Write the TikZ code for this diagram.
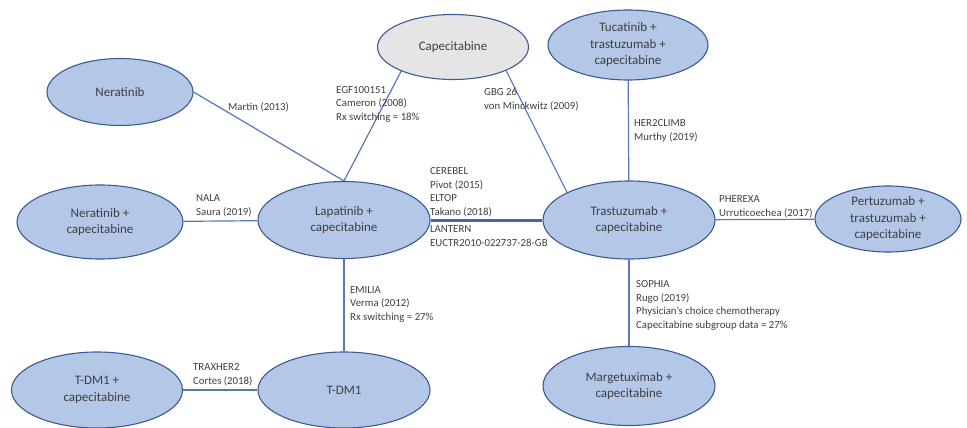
\documentclass[tikz,border=0pt]{standalone}
\usepackage{fontspec}
\setmainfont{Carlito}
\usetikzlibrary{shapes.geometric}
\definecolor{nodefill}{HTML}{B4C7E7}
\definecolor{greyfill}{HTML}{E5E5E5}
\definecolor{rim}{HTML}{3A5A96}
\definecolor{linkblue}{HTML}{5777BA}
\definecolor{txt}{HTML}{3F3F3F}
\pgfdeclarelayer{links}
\pgfsetlayers{links,main}
\begin{document}
\begin{tikzpicture}[x=1pt,y=-1pt,
  drug/.style={ellipse,draw=rim,line width=1.1pt,fill=nodefill,inner sep=0pt,
    align=center,text=txt,font=\fontsize{13}{16.5}\selectfont},
  % labels are placed by the baseline of their last line
  ref/.style={draw=none,fill=none,anchor=base west,align=left,inner sep=0pt,
    text=txt,font=\fontsize{10.8}{13.6}\selectfont},
  link/.style={draw=linkblue,line width=1.2pt},
  biglink/.style={draw=linkblue!85!black,line width=3pt}]
\useasboundingbox (0,0) rectangle (967,428);

% treatments
\node[drug,fill=greyfill,minimum width=151pt,minimum height=65pt] (cap) at (453,47) {Capecitabine};
\node[drug,minimum width=160pt,minimum height=70pt] (tuc) at (628,45) {Tucatinib +\\trastuzumab +\\capecitabine};
\node[drug,minimum width=146pt,minimum height=67pt] (ner) at (120,92) {Neratinib};
\node[drug,minimum width=166pt,minimum height=74pt] (nerc) at (100,222) {Neratinib +\\capecitabine};
\node[drug,minimum width=172pt,minimum height=77pt] (lap) at (344,220) {Lapatinib +\\capecitabine};
\node[drug,minimum width=172pt,minimum height=78pt] (tra) at (629,220) {Trastuzumab +\\capecitabine};
\node[drug,minimum width=146pt,minimum height=66pt] (per) at (888,219) {Pertuzumab +\\trastuzumab +\\capecitabine};
\node[drug,minimum width=171pt,minimum height=76pt] (tdmc) at (97,390) {T-DM1 +\\capecitabine};
\node[drug,minimum width=172pt,minimum height=76pt] (tdm) at (344,390) {T-DM1};
\node[drug,minimum width=172pt,minimum height=79pt] (mar) at (629,386) {Margetuximab +\\capecitabine};

% trials linking treatments, kept beneath the ellipses
\begin{pgfonlayer}{links}
\draw[link] (ner.east) -- (lap.north);
\draw[link] (cap.205) -- (lap.north);
\draw[link] (cap.336) -- (tra.156);
\draw[link] (tuc) -- (tra);
\draw[link] (nerc) -- (lap);
\draw[biglink] (lap) -- (tra);
\draw[link] (tra) -- (per);
\draw[link] (lap) -- (tdm);
\draw[link] (tdmc) -- (tdm);
\draw[link] (tra) -- (mar);
\end{pgfonlayer}

% trial labels
\node[ref] (lmartin) at (228,110.5) {Martin (2013)};
\node[ref] (legf) at (336,120.5) {EGF100151\\Cameron (2008)\\Rx switching = 18\%};
\node[ref] (lgbg) at (484,109.5) {GBG 26\\von Minckwitz (2009)};
\node[ref] (lher) at (634,140.5) {HER2CLIMB\\Murthy (2019)};
\node[ref] (lnala) at (196,215.5) {NALA\\Saura (2019)};
\node[ref] (lcer) at (430,215.5) {CEREBEL\\Pivot (2015)\\ELTOP\\Takano (2018)};
\node[ref] (llan) at (430,246.5) {LANTERN\\EUCTR2010-022737-28-GB};
\node[ref] (lphe) at (719,216.5) {PHEREXA\\Urruticoechea (2017)};
\node[ref] (lemi) at (350,320.5) {EMILIA\\Verma (2012)\\Rx switching = 27\%};
\node[ref] (lsop) at (636,328.5) {SOPHIA\\Rugo (2019)\\Physician’s choice chemotherapy\\Capecitabine subgroup data = 27\%};
\node[ref] (ltrax) at (193,384.5) {TRAXHER2\\Cortes (2018)};
\end{tikzpicture}
\end{document}
